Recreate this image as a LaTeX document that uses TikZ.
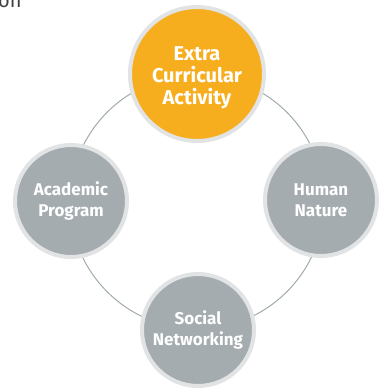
\documentclass[tikz,border=0pt]{standalone}
\usepackage{fontspec}
\setmainfont{Fira Sans}
\definecolor{amber}{RGB}{247,174,30}
\definecolor{stonegray}{RGB}{165,172,176}
\definecolor{ringgray}{RGB}{225,227,228}
\definecolor{linegray}{RGB}{160,170,172}
\tikzset{
  topic/.style={circle, draw=ringgray, line width=4pt, fill=stonegray, text=white,
    font=\bfseries\fontsize{17}{21}\selectfont, align=center, minimum size=112pt, inner sep=0pt},
  maintopic/.style={topic, fill=amber, minimum size=134pt},
  maintext/.style={text=white, align=center, inner sep=0pt,
    font=\bfseries\fontsize{20}{22}\selectfont}
}
\begin{document}
\begin{tikzpicture}[x=1pt,y=-1pt]
    \useasboundingbox (0,0) rectangle (388,391);
    % cut-off caption
    \node[anchor=base west, inner sep=0pt, text=black!75, font=\fontsize{20}{20}\selectfont] (caption) at (-2,7) {on};

    % ring
    \coordinate (hub) at (197,202);
    \draw[linegray, line width=1pt] (hub) circle (127);

    % circles
    \node[maintopic] (extra) at (197,74) {};
    \node[maintext] (extra-text) at (197,78) {Extra\\Curricular\\Activity};
    \node[topic] (academic) at (71,201) {Academic\\Program};
    \node[topic] (human) at (321,200) {Human\\Nature};
    \node[topic] (social) at (198,330) {Social\\Networking};
\end{tikzpicture}
\end{document}
